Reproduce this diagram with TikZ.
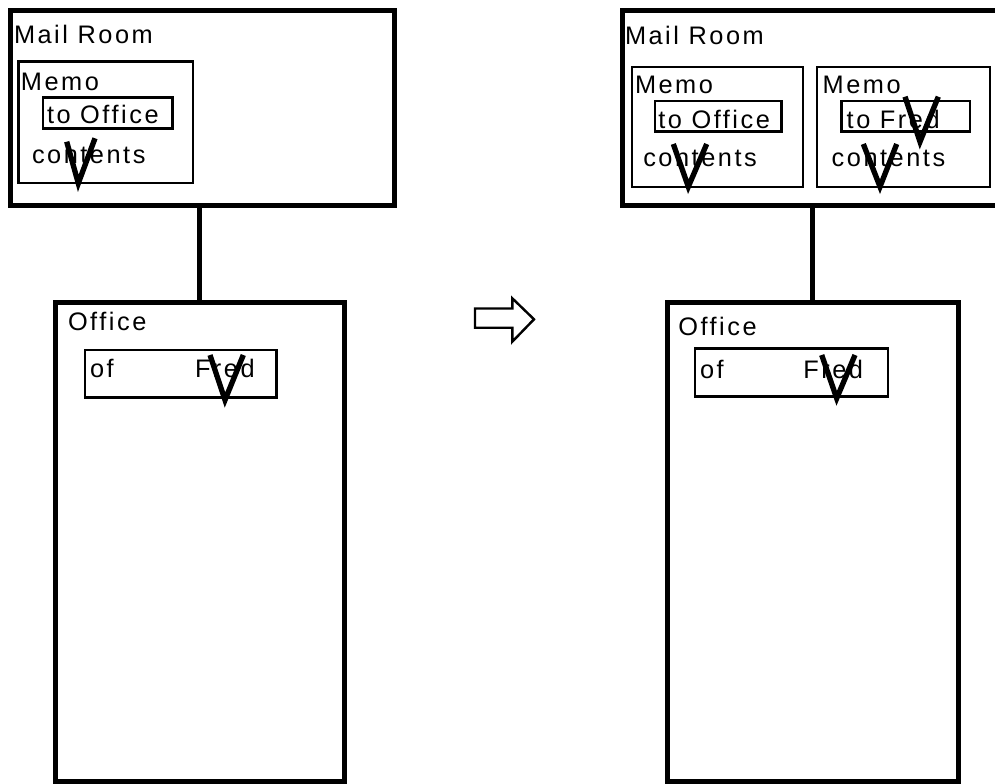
\documentclass[tikz,border=0pt]{standalone}
\usepackage{fontspec}
\setmainfont{Liberation Sans}[LetterSpace=10]
\usetikzlibrary{fit}
\begin{document}
\begin{tikzpicture}[x=0.75pt,y=-0.75pt,
  txt/.style={anchor=base west, inner sep=0, outer sep=0, font=\fontsize{19}{21}\selectfont},
  bigbox/.style={draw, line width=3.75pt, inner sep=0, outer sep=0},
  memobox/.style={draw, line width=1.6pt, inner sep=0, outer sep=0},
  addrbox/.style={draw, line width=2.2pt, inner sep=0, outer sep=0},
  ofbox/.style={draw, line width=1.9pt, inner sep=0, outer sep=0},
  conn/.style={line width=3.75pt},
  vmark/.style={line width=4pt, line join=miter, miter limit=10},
  harrow/.style={draw, line width=1.8pt, line join=miter}]
\useasboundingbox (0,0) rectangle (995,784);
\clip (0,0) rectangle (995,784);

% ---------- left state ----------
\node[bigbox, fit={(10,11)(394,206)}] (mr1) {};
\node[memobox, fit={(18.5,61.5)(193,183)}] (memo1) {};
\node[addrbox, fit={(43,97.7)(172.5,128.3)}] (to1) {};
\node[bigbox, fit={(55,302)(344,781)}] (off1) {};
\node[ofbox, fit={(85,350)(276.5,397.5)}] (of1) {};

\node[txt] (mr1t) at (14,43.5) {Mail Room};
\node[txt] (memo1t) at (21,90.7) {Memo};
\node[txt] (to1t) at (47,124) {to Office};
\node[txt] (cont1t) at (32,163.3) {contents};
\node[txt] (off1t) at (68,330) {Office};
\node[txt] (of1t) at (90,377.3) {of};
\node[txt] (fred1t) at (195,377.3) {Fred};

\draw[conn] (off1.north |- mr1.south) -- (off1.north);

\draw[vmark] (66.7,141.7) -- (78.3,183.3) -- (95,138.3);
\draw[vmark] (210,355) -- (225,400) -- (243.3,355);

% ---------- transition arrow ----------
\draw[harrow] (475,308.5) -- (512.3,308.5) -- (512.3,298.3) -- (534,319.3)
  -- (512.3,341.7) -- (512.3,327.7) -- (475,327.7) -- cycle;

% ---------- right state ----------
\node[bigbox, fit={(622,11)(1012,206)}] (mr2) {};
\node[memobox, fit={(631.7,66.7)(803.3,186.7)}] (memo2a) {};
\node[memobox, fit={(816.7,66.7)(990,186.7)}] (memo2b) {};
\node[addrbox, fit={(655,101)(781.7,131.7)}] (to2a) {};
\node[addrbox, fit={(841.7,101)(970,131.7)}] (to2b) {};
\node[bigbox, fit={(667,302)(958,781)}] (off2) {};
\node[ofbox, fit={(695,348.3)(888,396.7)}] (of2) {};

\node[txt] (mr2t) at (625,44.5) {Mail Room};
\node[txt] (memo2at) at (635,93.3) {Memo};
\node[txt] (to2at) at (658.3,128.3) {to Office};
\node[txt] (cont2at) at (643.3,166.7) {contents};
\node[txt] (memo2bt) at (822.7,93.3) {Memo};
\node[txt] (to2bt) at (846.7,128.3) {to Fred};
\node[txt] (cont2bt) at (831.7,166.7) {contents};
\node[txt] (off2t) at (678.3,335) {Office};
\node[txt] (of2t) at (700,378.3) {of};
\node[txt] (fred2t) at (803.3,378.3) {Fred};

\draw[conn] (mr2.south -| off2.north) -- (off2.north);

\draw[vmark] (673.3,144) -- (688.3,186.7) -- (706.7,144);
\draw[vmark] (905,96.7) -- (920,141.7) -- (938.3,96.7);
\draw[vmark] (863.3,144) -- (880,186.7) -- (896.7,144);
\draw[vmark] (821.7,355) -- (836.7,398.3) -- (855,355);
\end{tikzpicture}
\end{document}
